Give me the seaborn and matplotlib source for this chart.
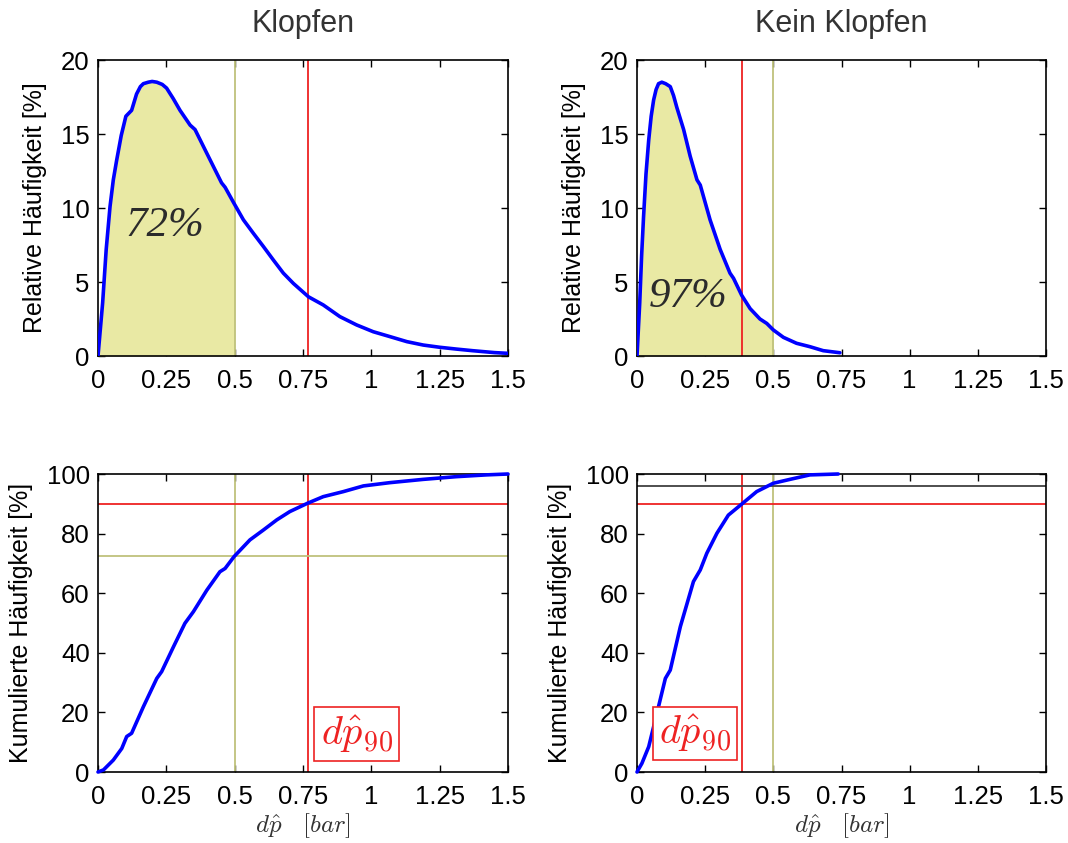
import numpy as np
import pandas as pd
import matplotlib
matplotlib.use("Agg")
import matplotlib.pyplot as plt
import seaborn as sns

# Relative frequency of the pressure oscillation amplitude (knocking cycles)
knock_pdf_x = [0, 0.017, 0.030, 0.044, 0.056, 0.068, 0.085, 0.102, 0.123, 0.141, 0.155,
               0.166, 0.184, 0.198, 0.215, 0.235, 0.251, 0.275, 0.300, 0.337, 0.355,
               0.398, 0.452, 0.465, 0.498, 0.532, 0.568, 0.605, 0.641, 0.678, 0.715,
               0.770, 0.824, 0.885, 0.946, 1.007, 1.068, 1.130, 1.190, 1.250, 1.310,
               1.370, 1.450, 1.500]
knock_pdf_y = [0, 3.6, 7.2, 10.1, 11.9, 13.2, 14.9, 16.2, 16.6, 17.7, 18.2,
               18.4, 18.5, 18.55, 18.5, 18.35, 18.1, 17.4, 16.6, 15.6, 15.3,
               13.7, 11.7, 11.4, 10.3, 9.2, 8.3, 7.4, 6.5, 5.6, 4.9,
               4.0, 3.45, 2.66, 2.1, 1.64, 1.31, 0.97, 0.74, 0.59, 0.47,
               0.36, 0.23, 0.18]

# Relative frequency (non-knocking cycles)
noknock_pdf_x = [0, 0.010, 0.017, 0.024, 0.033, 0.043, 0.052, 0.061, 0.070, 0.079, 0.091,
                 0.105, 0.122, 0.134, 0.146, 0.171, 0.195, 0.220, 0.232, 0.268, 0.305,
                 0.341, 0.354, 0.384, 0.415, 0.451, 0.476, 0.500, 0.537, 0.585, 0.634,
                 0.683, 0.744]
noknock_pdf_y = [0, 3.6, 6.8, 9.4, 12.3, 14.6, 16.2, 17.3, 18.0, 18.4, 18.5,
                 18.4, 18.2, 17.6, 16.8, 15.3, 13.5, 11.9, 11.55, 9.2, 7.2,
                 5.6, 5.25, 4.1, 3.2, 2.5, 2.2, 1.76, 1.26, 0.86, 0.63,
                 0.36, 0.22]

# Cumulative frequency (knocking cycles)
knock_cdf_x = [0, 0.020, 0.056, 0.087, 0.105, 0.123, 0.166, 0.215, 0.233, 0.276, 0.318,
               0.349, 0.398, 0.446, 0.465, 0.498, 0.556, 0.605, 0.654, 0.702, 0.767,
               0.824, 0.898, 0.971, 1.068, 1.190, 1.310, 1.420, 1.500]
knock_cdf_y = [0, 0.7, 4.0, 7.9, 11.9, 13.0, 21.9, 31.4, 33.7, 42.0, 49.9,
               53.8, 61.0, 67.2, 68.3, 72.3, 77.9, 81.2, 84.6, 87.4, 90.2,
               92.4, 94.1, 96.0, 97.1, 98.2, 99.1, 99.7, 100]

# Cumulative frequency (non-knocking cycles)
noknock_cdf_x = [0, 0.018, 0.043, 0.073, 0.104, 0.122, 0.159, 0.207, 0.232, 0.256, 0.293,
                 0.335, 0.384, 0.439, 0.500, 0.561, 0.634, 0.738]
noknock_cdf_y = [0, 2.9, 8.5, 19.7, 31.4, 34.2, 48.8, 63.9, 67.8, 73.4, 80.1,
                 86.2, 89.9, 94.1, 96.9, 98.2, 99.7, 100]

titles = ["Klopfen", "Kein Klopfen"]
share_labels = ["72%", "97%"]
threshold = 0.5                  # fixed amplitude threshold [bar]
dp90 = [0.767, 0.384]            # 90 % quantile of each distribution [bar]
level90 = 90                     # cumulative level for dp90 [%]
knock_share_level = 72.6         # cumulative share below threshold (knocking)
noknock_ref_level = 96.1         # reference level (non-knocking)

x_ticks = [0, 0.25, 0.5, 0.75, 1, 1.25, 1.5]
x_ticklabels = ["0", "0.25", "0.5", "0.75", "1", "1.25", "1.5"]
pdf_ticks = [0, 5, 10, 15, 20]
cdf_ticks = [0, 20, 40, 60, 80, 100]

BLUE = "#0000ff"
RED = "#ee2222"
GREEN = "#bfc27c"
FILL = "#e9e9a4"

sns.set_theme(style="white")
plt.rcParams["font.family"] = ["Liberation Sans", "DejaVu Sans"]
plt.rcParams.update({
    "xtick.direction": "in", "ytick.direction": "in",
    "xtick.top": True, "ytick.right": True,
    "xtick.bottom": True, "ytick.left": True,
    "xtick.major.size": 5, "ytick.major.size": 5,
    "xtick.major.width": 1.0, "ytick.major.width": 1.0,
    "axes.edgecolor": "black", "axes.linewidth": 1.2,
    "xtick.color": "black", "ytick.color": "black",
    "xtick.labelsize": 18.5, "ytick.labelsize": 18.5,
})

fig = plt.figure(figsize=(10.68, 8.43), dpi=100)
W, H = 1068, 843
def box(l, t, r, b):
    return [l / W, 1 - b / H, (r - l) / W, (b - t) / H]

ax_tl = fig.add_axes(box(98, 60, 508, 356))
ax_tr = fig.add_axes(box(637, 60, 1046, 356))
ax_bl = fig.add_axes(box(98, 474, 508, 772))
ax_br = fig.add_axes(box(637, 474, 1046, 772))

pdf_sets = [(ax_tl, knock_pdf_x, knock_pdf_y), (ax_tr, noknock_pdf_x, noknock_pdf_y)]
cdf_sets = [(ax_bl, knock_cdf_x, knock_cdf_y), (ax_br, noknock_cdf_x, noknock_cdf_y)]

share_pos = [(0.245, 8.8), (0.187, 4.0)]
box_pos = [(0.946, 12.75), (0.213, 12.9)]

for i, (ax, xs, ys) in enumerate(pdf_sets):
    df = pd.DataFrame({"x": xs, "y": ys})
    xa = np.array(xs)
    ya = np.array(ys)
    # shaded area below the threshold
    xf = np.append(xa[xa < threshold], threshold)
    yf = np.interp(xf, xa, ya)
    ax.fill_between(xf, 0, yf, color=FILL, lw=0, zorder=1)
    ax.axvline(threshold, color=GREEN, lw=1.3, zorder=2)
    ax.axvline(dp90[i], color=RED, lw=1.3, zorder=2)
    sns.lineplot(data=df, x="x", y="y", ax=ax, color=BLUE, lw=2.6, zorder=3,
                 sort=False, estimator=None)
    ax.text(*share_pos[i], share_labels[i], family="Liberation Serif",
            style="italic", fontsize=31, color="#2b2b2b",
            ha="center", va="center", zorder=4)
    ax.set_xlim(0, 1.5)
    ax.set_ylim(0, 20)
    ax.set_yticks(pdf_ticks)
    ax.set_ylabel("Relative Häufigkeit [%]", fontsize=18, color="black", labelpad=10)
    ax.set_xlabel("")
    ax.set_title(titles[i], fontsize=22, color="#333333", pad=20)

for i, (ax, xs, ys) in enumerate(cdf_sets):
    df = pd.DataFrame({"x": xs, "y": ys})
    ax.axvline(threshold, color=GREEN, lw=1.3, zorder=2)
    ax.axvline(dp90[i], color=RED, lw=1.3, zorder=2)
    ax.axhline(level90, color=RED, lw=1.3, zorder=2)
    if i == 0:
        ax.axhline(knock_share_level, color=GREEN, lw=1.3, zorder=2)
    else:
        ax.axhline(noknock_ref_level, color="#404040", lw=1.3, zorder=2)
    sns.lineplot(data=df, x="x", y="y", ax=ax, color=BLUE, lw=2.6, zorder=3,
                 sort=False, estimator=None, clip_on=False)
    ax.text(*box_pos[i], r"$d\hat{p}_{90}$", math_fontfamily="cm", fontsize=29,
            color=RED, ha="center", va="center", zorder=5,
            bbox=dict(boxstyle="square,pad=0.15", fc="white", ec=RED, lw=1.2))
    ax.set_xlim(0, 1.5)
    ax.set_ylim(0, 100)
    ax.set_yticks(cdf_ticks)
    ax.set_ylabel("Kumulierte Häufigkeit [%]", fontsize=18, color="black", labelpad=10)
    ax.set_xlabel(r"$d\hat{p}\quad[bar]$", math_fontfamily="cm", fontsize=18,
                  color="#333333", labelpad=2)

for ax in [ax_tl, ax_tr, ax_bl, ax_br]:
    ax.set_xticks(x_ticks)
    ax.set_xticklabels(x_ticklabels)
    ax.tick_params(axis="x", pad=9)
    ax.tick_params(axis="y", pad=6)
    for s in ax.spines.values():
        s.set_visible(True)
        s.set_color("black")

fig.savefig("out.png", dpi=100, facecolor="white")
